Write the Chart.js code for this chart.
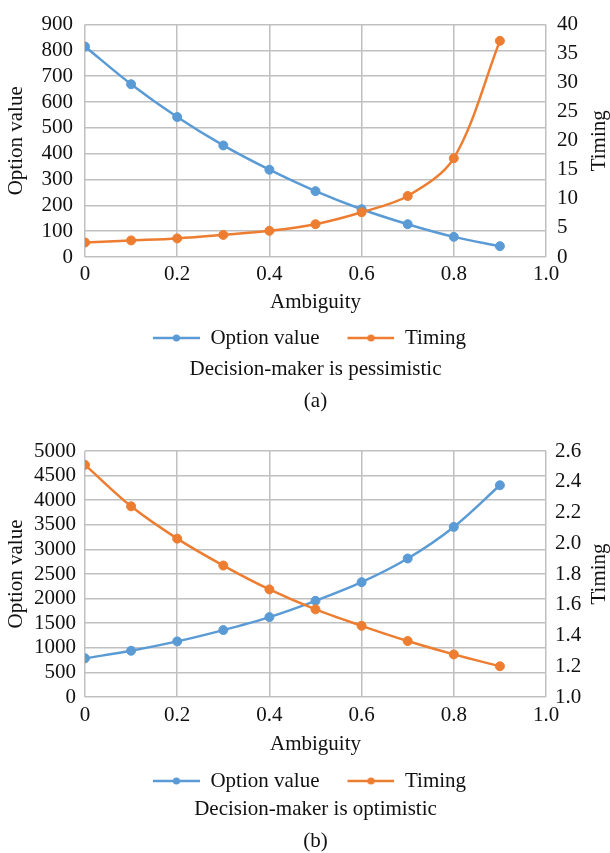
<!DOCTYPE html>
<html>
<head>
<meta charset="utf-8">
<script src="https://cdn.jsdelivr.net/npm/chart.js@4/dist/chart.umd.min.js"></script>
<style>
  html, body { margin: 0; padding: 0; background: #fff; }
  #wrap { position: relative; width: 610px; height: 853px; }
  .c { position: absolute; left: 0; }
</style>
</head>
<body>
<div id="wrap">
  <canvas id="chartA" class="c" width="610" height="425" style="top:0"></canvas>
  <canvas id="chartB" class="c" width="610" height="428" style="top:425px"></canvas>
</div>
<script>
// ---- data ----
const ambiguity = [0, 0.1, 0.2, 0.3, 0.4, 0.5, 0.6, 0.7, 0.8, 0.9];
const seriesNames = ['Option value', 'Timing'];

// (a) Decision-maker is pessimistic
const pessOptionValue = [815, 669, 542, 432, 338, 255, 185, 127, 78, 42];
const pessTiming = [2.5, 2.85, 3.2, 3.8, 4.5, 5.65, 7.7, 10.5, 17.0, 37.2];

// (b) Decision-maker is optimistic
const optOptionValue = [786, 940, 1130, 1360, 1624, 1955, 2334, 2815, 3457, 4303];
const optTiming = [2.51, 2.24, 2.03, 1.855, 1.70, 1.57, 1.463, 1.364, 1.277, 1.20];

const xTitle = 'Ambiguity';
const subtitles = ['Decision-maker is pessimistic', 'Decision-maker is optimistic'];
const panelLabels = ['(a)', '(b)'];

// ---- styling ----
const BLUE = '#5B9BD5';
const ORANGE = '#ED7D31';
const TEXT = '#111111';
const GRID = '#c0c0c0';
const FONT = 'Liberation Serif';
const FS = 21;

function legendImage(color) {
  const c = document.createElement('canvas');
  c.width = 65; c.height = 12;
  const g = c.getContext('2d');
  g.strokeStyle = color; g.lineWidth = 2.5;
  g.beginPath(); g.moveTo(18, 6); g.lineTo(65, 6); g.stroke();
  g.fillStyle = color;
  g.beginPath(); g.arc(41.5, 6, 3.6, 0, Math.PI * 2); g.fill();
  return c;
}
const legendImgs = [legendImage(BLUE), legendImage(ORANGE)];

const rightTitle = {
  id: 'rightTitle',
  afterDraw(chart, args, opts) {
    const { ctx, chartArea } = chart;
    ctx.save();
    ctx.translate(opts.x, (chartArea.top + chartArea.bottom) / 2);
    ctx.rotate(-Math.PI / 2);
    ctx.font = FS + 'px "' + FONT + '"';
    ctx.fillStyle = TEXT;
    ctx.textAlign = 'center';
    ctx.textBaseline = 'middle';
    ctx.fillText(opts.text, 0, 0);
    ctx.restore();
  }
};

function pts(xs, ys) { return xs.map((x, i) => ({ x: x, y: ys[i] })); }

function makeChart(id, optVals, timVals, cfg) {
  const font = { family: FONT, size: FS };
  return new Chart(document.getElementById(id), {
    type: 'line',
    data: {
      datasets: [
        { label: seriesNames[0], data: pts(ambiguity, optVals), yAxisID: 'y',
          borderColor: BLUE, backgroundColor: BLUE, pointBackgroundColor: BLUE, pointBorderColor: BLUE,
          borderWidth: 2.5, pointRadius: 4.5, pointBorderWidth: 1, tension: 0.33, order: 1 },
        { label: seriesNames[1], data: pts(ambiguity, timVals), yAxisID: 'y1',
          borderColor: ORANGE, backgroundColor: ORANGE, pointBackgroundColor: ORANGE, pointBorderColor: ORANGE,
          borderWidth: 2.5, pointRadius: 4.5, pointBorderWidth: 1, tension: 0.33, order: 0 }
      ]
    },
    options: {
      responsive: false,
      animation: false,
      devicePixelRatio: 1,
      layout: { padding: { top: cfg.padTop, left: 0, right: 9, bottom: cfg.padBottom } },
      scales: {
        x: {
          type: 'linear', min: 0, max: 1,
          border: { display: false },
          grid: { color: GRID, lineWidth: 1.5, drawTicks: false },
          ticks: { stepSize: 0.2, autoSkip: false, maxRotation: 0, font: font, color: TEXT, padding: cfg.xTickPad,
                   callback: v => (Math.abs(v) < 1e-9 ? '0' : v.toFixed(1)) },
          title: { display: true, text: xTitle, font: font, color: TEXT, padding: { top: 0, bottom: cfg.xTitlePadB } },
          afterFit: s => { s.height = cfg.xHeight; }
        },
        y: {
          position: 'left', min: cfg.yMin, max: cfg.yMax,
          border: { display: false },
          grid: { color: GRID, lineWidth: 1.5, drawTicks: false },
          ticks: { stepSize: cfg.yStep, autoSkip: false, font: font, color: TEXT, padding: cfg.yTickPad,
                   callback: v => String(Math.round(v)) },
          title: { display: true, text: seriesNames[0], font: font, color: TEXT, padding: { top: 4, bottom: 0 } },
          afterFit: s => { s.width = 85; }
        },
        y1: {
          position: 'right', min: cfg.y1Min, max: cfg.y1Max,
          border: { display: false },
          grid: { drawOnChartArea: false, drawTicks: false },
          ticks: { stepSize: cfg.y1Step, autoSkip: false, font: font, color: TEXT, padding: cfg.y1TickPad,
                   callback: cfg.y1Fmt },
          afterFit: s => { s.width = 55; }
        }
      },
      plugins: {
        legend: {
          position: 'bottom', fullSize: true,
          labels: {
            font: font, color: TEXT, padding: 10, usePointStyle: true, pointStyleWidth: 65,
            generateLabels: chart => chart.data.datasets.map((ds, i) => ({
              text: ds.label, fillStyle: ds.borderColor, strokeStyle: ds.borderColor,
              fontColor: TEXT, pointStyle: legendImgs[i], lineWidth: 0, hidden: false, datasetIndex: i
            }))
          }
        },
        subtitle: {
          display: true, position: 'bottom', fullSize: false, text: cfg.subtitle,
          font: { family: FONT, size: FS, lineHeight: cfg.subLH }, color: TEXT, padding: { top: 0, bottom: 0 }
        },
        title: {
          display: true, position: 'bottom', fullSize: false, text: cfg.panel,
          font: { family: FONT, size: FS, lineHeight: 1, weight: 'normal' }, color: TEXT,
          padding: { top: cfg.titlePadT, bottom: 0 }
        },
        tooltip: { enabled: false },
        rightTitle: { text: seriesNames[1], x: 599 }
      }
    },
    plugins: [rightTitle]
  });
}

makeChart('chartA', pessOptionValue, pessTiming, {
  padTop: 17.5, padBottom: 13.5, xTickPad: 5, xTitlePadB: 2, xHeight: 60.5,
  yMin: 0, yMax: 900, yStep: 100, yTickPad: 12,
  y1Min: 0, y1Max: 40, y1Step: 5, y1TickPad: 11, y1Fmt: v => String(Math.round(v)),
  subtitle: subtitles[0], subLH: 1, panel: panelLabels[0], titlePadT: 11
});

makeChart('chartB', optOptionValue, optTiming, {
  padTop: 26, padBottom: 1.5, xTickPad: 6, xTitlePadB: 3, xHeight: 63.5,
  yMin: 0, yMax: 5000, yStep: 500, yTickPad: 9,
  y1Min: 1.0, y1Max: 2.6, y1Step: 0.2, y1TickPad: 9, y1Fmt: v => v.toFixed(1),
  subtitle: subtitles[1], subLH: 0.8, panel: panelLabels[1], titlePadT: 12.2
});
</script>
</body>
</html>
